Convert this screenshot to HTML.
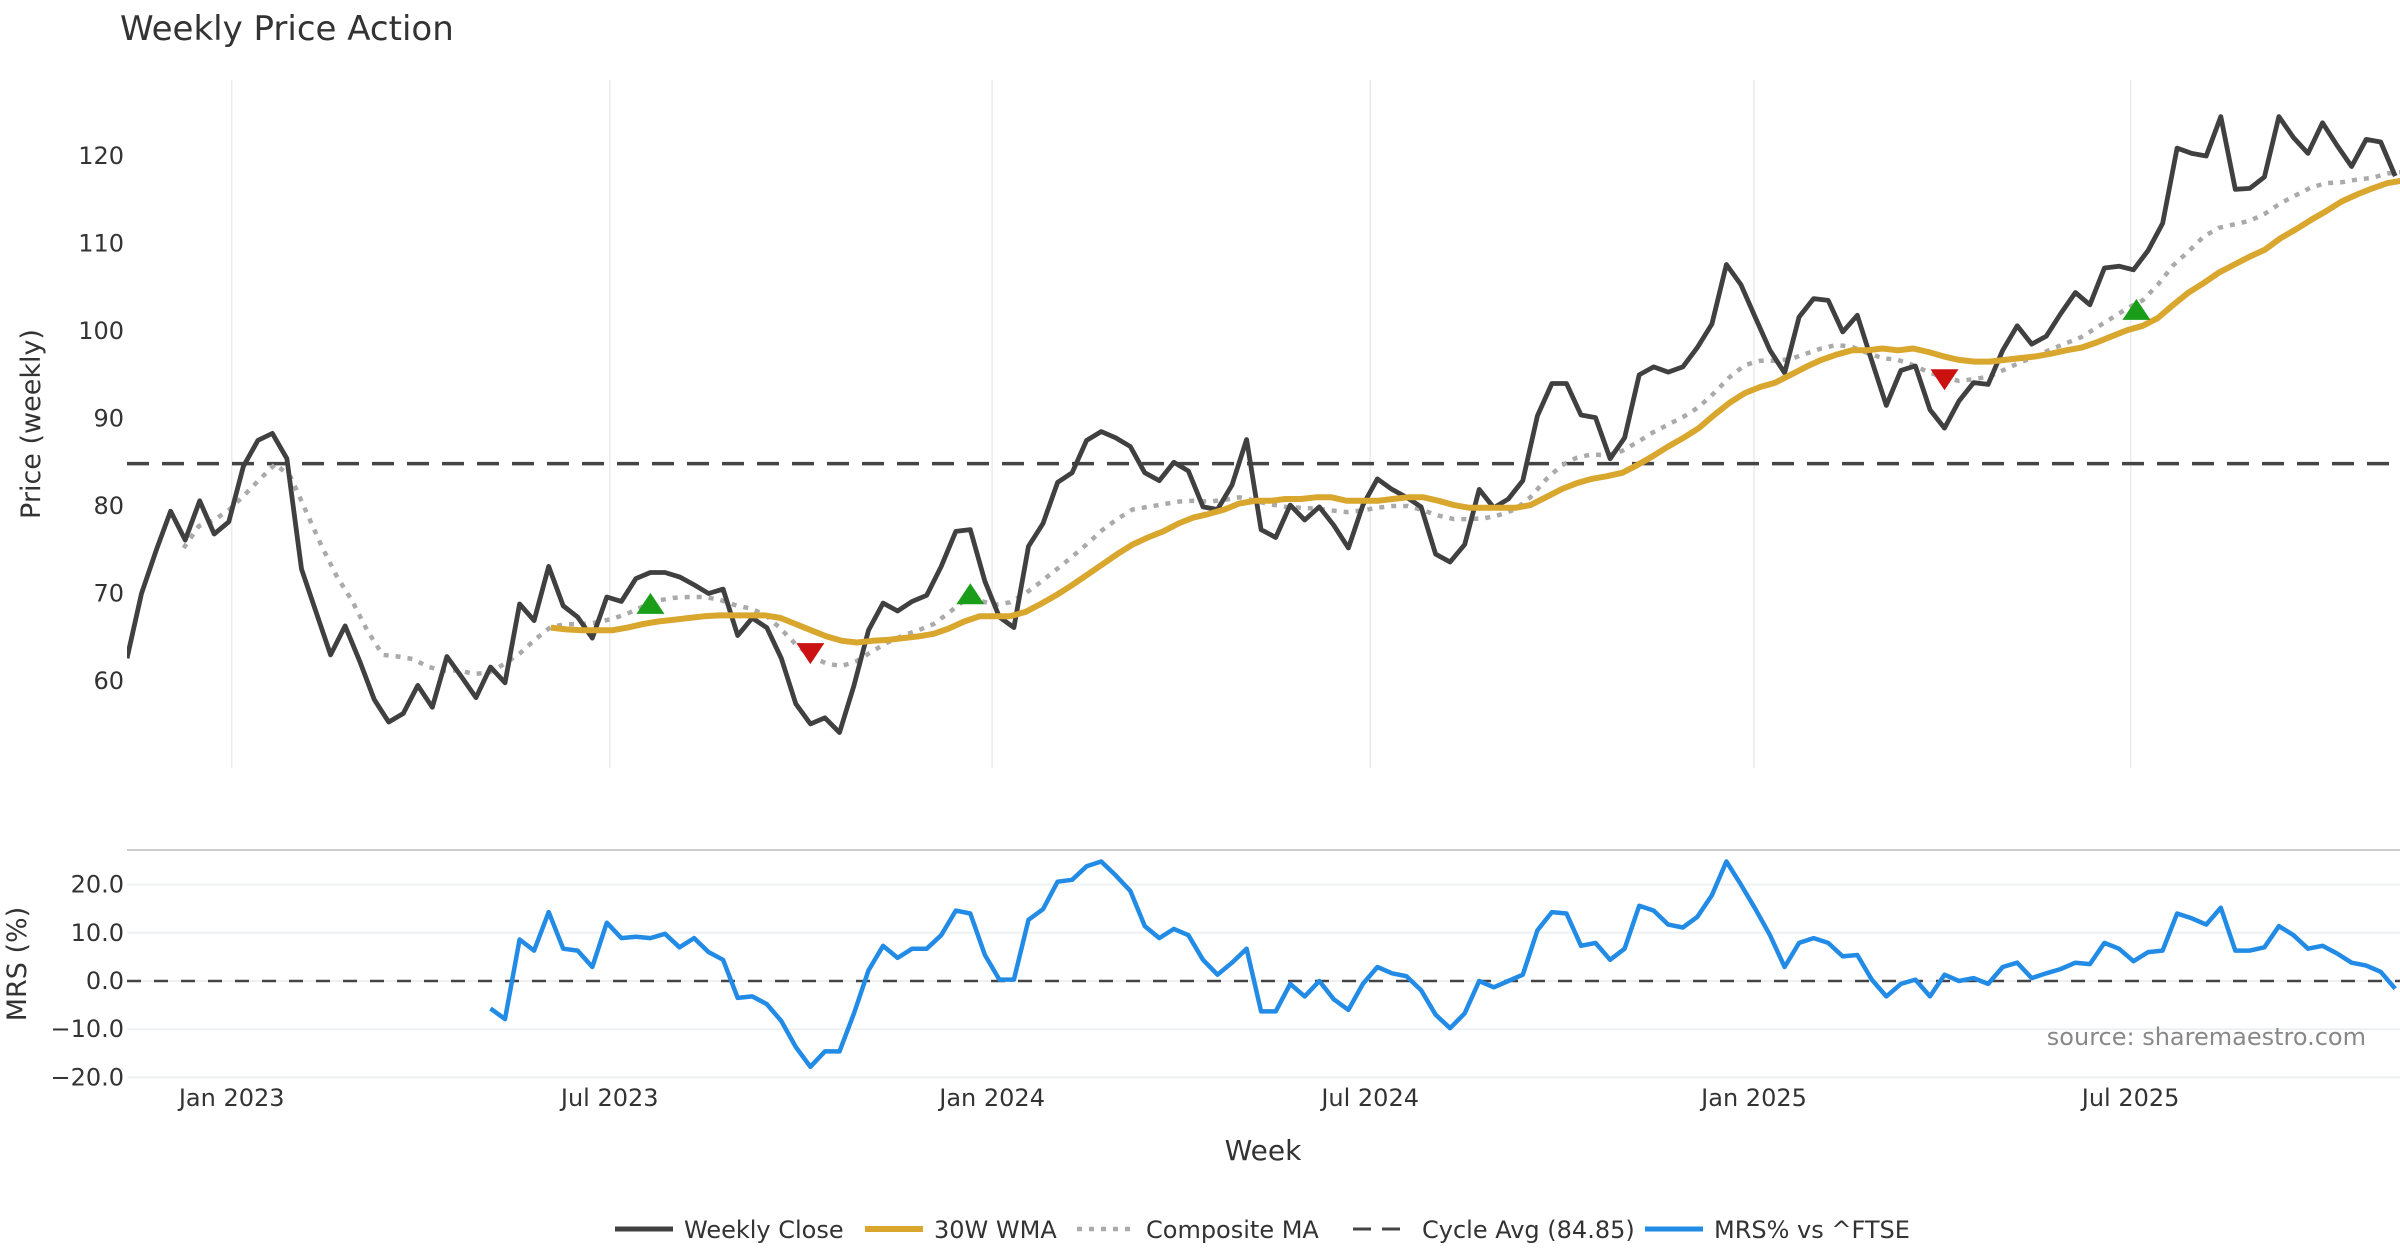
<!DOCTYPE html>
<html><head><meta charset="utf-8"><style>
html,body{margin:0;padding:0;background:#fff;}
svg{display:block;font-family:"DejaVu Sans","Liberation Sans",sans-serif;}
</style></head><body>
<svg id="chart" width="2400" height="1260" viewBox="0 0 2400 1260">
<defs><clipPath id="pc"><rect x="127" y="0" width="2273" height="1260"/></clipPath></defs>
<text x="120" y="40" font-size="34" fill="#333">Weekly Price Action</text>
<g id="main" clip-path="url(#pc)"></g>
<g id="lower"></g>
<g id="ticks"></g>
<text transform="translate(40,424) rotate(-90)" text-anchor="middle" font-size="27" fill="#333">Price (weekly)</text>
<text transform="translate(26,964) rotate(-90)" text-anchor="middle" font-size="27" fill="#333">MRS (%)</text>
<text x="1263" y="1160" text-anchor="middle" font-size="28" fill="#333">Week</text>
<text x="2366" y="1045" text-anchor="end" font-size="24" fill="#888">source: sharemaestro.com</text>
<g id="legend"></g>
</svg>
<script>
const closeVals=[62.6,70,74.9,79.4,76.1,80.6,76.8,78.2,84.5,87.5,88.3,85.4,72.8,67.9,63,66.3,62.3,57.9,55.3,56.3,59.5,57,62.8,60.5,58.1,61.6,59.8,68.8,66.9,73.1,68.6,67.3,64.9,69.6,69.1,71.7,72.4,72.4,71.9,71,70,70.5,65.2,67.2,66.1,62.6,57.4,55.1,55.8,54.1,59.5,65.8,68.9,68,69.1,69.8,73.1,77.1,77.3,71.4,67.3,66.1,75.4,78,82.7,83.8,87.5,88.5,87.8,86.8,83.8,82.9,85,84,79.9,79.6,82.4,87.6,77.3,76.4,80.1,78.4,79.9,77.8,75.2,80.1,83.1,81.9,81,79.9,74.5,73.6,75.6,81.9,79.8,80.8,82.9,90.3,94,94,90.4,90.1,85.4,87.8,95,95.9,95.3,95.9,98.1,100.8,107.6,105.3,101.5,97.8,95.2,101.6,103.7,103.5,99.9,101.8,96.6,91.5,95.5,96,91,88.9,92,94.1,93.9,97.8,100.6,98.5,99.4,102,104.4,103,107.2,107.4,107,109.2,112.3,120.9,120.3,120,124.5,116.2,116.3,117.6,124.5,122.1,120.3,123.8,121.2,118.8,121.9,121.6,117.7];
const wmaVals=[66.1,65.9,65.8,65.8,65.8,66.1,66.5,66.8,67,67.2,67.4,67.5,67.5,67.5,67.5,67.2,66.5,65.8,65.1,64.6,64.4,64.6,64.7,64.9,65.1,65.4,66,66.8,67.4,67.4,67.4,67.9,68.8,69.8,70.9,72.1,73.3,74.5,75.6,76.4,77.1,78,78.7,79.1,79.6,80.3,80.6,80.6,80.8,80.8,81,81,80.6,80.6,80.6,80.8,81,81,80.6,80.1,79.8,79.8,79.8,79.8,80.1,81,81.9,82.6,83.1,83.4,83.8,84.7,85.7,86.8,87.8,88.9,90.4,91.8,92.9,93.6,94.1,95,95.9,96.7,97.3,97.8,97.8,98,97.8,98,97.6,97.1,96.7,96.5,96.5,96.7,96.9,97.1,97.4,97.8,98.1,98.7,99.4,100.1,100.6,101.5,103,104.4,105.5,106.7,107.6,108.5,109.3,110.6,111.6,112.7,113.7,114.8,115.6,116.3,116.9,117.2];
const compVals=[75.2,77.7,78.4,79.6,81.3,83.1,84.8,83.3,79.4,75.5,72,69.2,65.8,63,62.8,62.5,61.6,61.2,61.2,60.8,61,62,63.2,64.8,66.2,66.5,66.5,66.7,67.1,67.7,68.5,69.2,69.5,69.6,69.6,69.3,68.7,68.3,67.6,66,64.2,62.8,62,61.7,62.3,63.4,64.4,65.2,65.8,66.5,67.8,69.2,69.2,68.7,69,70,71.3,72.7,74.1,75.6,77.2,78.5,79.6,79.9,80.2,80.5,80.6,80.5,80.7,81,80.6,80.2,79.9,79.8,79.7,79.5,79.3,79.5,79.8,80,80,79.5,78.9,78.5,78.5,78.6,79,79.6,81,83,84.6,85.5,85.9,85.8,86.3,87.3,88.4,89.3,90.2,91.3,92.9,94.7,96.1,96.6,96.6,96.8,97.4,98,98.4,98.2,97.5,96.9,96.7,96.1,95.3,94.7,94.3,94.5,94.8,95.6,96.4,97.1,97.9,98.6,99.3,100.4,101.5,102.6,103.5,105.3,107.5,109.1,110.8,111.8,112.2,112.6,113.4,114.6,115.5,116.4,116.9,117,117.3,117.5,118,118.2];
const mrsVals=[-5.7,-7.9,8.6,6.3,14.3,6.7,6.3,2.9,12.1,8.9,9.2,8.9,9.8,7,8.9,6,4.4,-3.5,-3.2,-4.8,-8.3,-13.7,-17.8,-14.6,-14.6,-6.7,2.2,7.3,4.8,6.7,6.7,9.5,14.6,14,5.4,0.3,0.3,12.7,14.9,20.6,21,23.8,24.8,21.9,18.7,11.4,8.9,10.8,9.5,4.4,1.3,3.8,6.7,-6.3,-6.3,-0.6,-3.2,0,-3.8,-6,-0.6,2.9,1.6,1,-1.9,-7,-9.8,-6.7,0,-1.3,0,1.3,10.5,14.3,14,7.3,7.9,4.4,6.7,15.6,14.6,11.7,11.1,13.3,17.8,24.8,20,14.9,9.5,2.9,7.9,8.9,7.9,5.1,5.4,0.3,-3.2,-0.6,0.3,-3.2,1.3,0,0.6,-0.6,2.9,3.8,0.6,1.6,2.5,3.8,3.5,7.9,6.7,4.1,6,6.3,14,13,11.7,15.2,6.3,6.3,7,11.4,9.5,6.7,7.3,5.7,3.8,3.2,1.9,-1.6];
const buyWeeks=[36,58,138.2];
const buyVals=[68.7,69.8,102.3];
const sellWeeks=[47,125];
const sellVals=[63.3,94.6];
const cycleAvg=84.85;
const priceTicks=[60,70,80,90,100,110,120];
const mrsTicks=[20,10,0,-10,-20];
const mrsTickLabels=["20.0","10.0","0.0","\u221210.0","\u221220.0"];
const dateTickWeeks=[7.2,33.2,59.5,85.5,111.9,137.8];
const dateTickLabels=["Jan 2023","Jul 2023","Jan 2024","Jul 2024","Jan 2025","Jul 2025"];
const mrsStartWeek=25, wmaStartWeek=29.16, compStartWeek=3.89, maStepWeeks=1.0526;

const NS="http://www.w3.org/2000/svg";
function mk(tag,attrs,parent){const e=document.createElementNS(NS,tag);for(const k in attrs)e.setAttribute(k,attrs[k]);parent.appendChild(e);return e;}
const X=w=>127+w*14.54;
const Y=v=>681-(v-60)*8.75;
const YM=v=>981-v*4.82;
const main=document.getElementById('main'),lower=document.getElementById('lower'),legend=document.getElementById('legend'),ticks=document.getElementById('ticks');

dateTickWeeks.forEach((w,i)=>{
  const g=mk('line',{x1:X(w),x2:X(w),y1:80,y2:768,stroke:'#ebebeb','stroke-width':1.5},main);
  
  
  const t=mk('text',{x:X(w),y:1106,'text-anchor':'middle','font-size':24,fill:'#333'},ticks);
  t.textContent=dateTickLabels[i];
  
  
});
priceTicks.forEach(v=>{
  const t=mk('text',{x:124,y:Y(v)+8,'text-anchor':'end','font-size':24,fill:'#333'},ticks);
  t.textContent=v;
  
  
});
const cl=mk('line',{x1:127,x2:2400,y1:Y(cycleAvg),y2:Y(cycleAvg),stroke:'#444','stroke-width':3.5,'stroke-dasharray':'22 13'},main);


function pts(vals,start,step,yf){return vals.map((v,i)=>X(start+i*step).toFixed(1)+','+yf(v).toFixed(1)).join(' ');}
const cp=mk('polyline',{points:pts(compVals,compStartWeek,maStepWeeks,Y),fill:'none',stroke:'#aaa','stroke-width':4.5,'stroke-dasharray':'5 7'},main);


const cc=mk('polyline',{points:pts(closeVals,0,1,Y),fill:'none',stroke:'#404040','stroke-width':4.8,'stroke-linejoin':'round'},main);


const wm=mk('polyline',{points:pts(wmaVals,wmaStartWeek,maStepWeeks,Y),fill:'none',stroke:'#d9a62e','stroke-width':6,'stroke-linejoin':'round'},main);


buyWeeks.forEach((w,i)=>{
  const x=X(w),y=Y(buyVals[i]);
  const p=mk('polygon',{points:`${x-14},${y+9} ${x+14},${y+9} ${x},${y-12}`,fill:'#1a9e1a'},main);
  
  
});
sellWeeks.forEach((w,i)=>{
  const x=X(w),y=Y(sellVals[i]);
  const p=mk('polygon',{points:`${x-14},${y-9} ${x+14},${y-9} ${x},${y+12}`,fill:'#cc1111'},main);
  
  
});
const bl=mk('line',{x1:127,x2:2400,y1:850,y2:850,stroke:'#ccc','stroke-width':2},lower);


mrsTicks.forEach((v,i)=>{
  const g=mk('line',{x1:127,x2:2400,y1:YM(v),y2:YM(v),stroke:'#eef0f2','stroke-width':2},lower);
  
  
  const t=mk('text',{x:124,y:YM(v)+8,'text-anchor':'end','font-size':24,fill:'#333'},ticks);
  t.textContent=mrsTickLabels[i];
  
  
});
const zl=mk('line',{x1:127,x2:2400,y1:YM(0),y2:YM(0),stroke:'#444','stroke-width':2.5,'stroke-dasharray':'14 13'},lower);


const ml=mk('polyline',{points:pts(mrsVals,mrsStartWeek,1,YM),fill:'none',stroke:'#228be6','stroke-width':4.5,'stroke-linejoin':'round'},lower);


const items=[["Weekly Close",615,'#404040',5,''],["30W WMA",865,'#d9a62e',6,''],["Composite MA",1077,'#aaa',4.5,'5 7'],["Cycle Avg (84.85)",1353,'#444',3,'18 11'],["MRS% vs ^FTSE",1645,'#228be6',5,'']];
items.forEach(it=>{
  const g=mk('g',{},legend);
  
  
  const attrs={x1:it[1],x2:it[1]+58,y1:1229,y2:1229,stroke:it[2],'stroke-width':it[3]};
  if(it[4])attrs['stroke-dasharray']=it[4];
  mk('line',attrs,g);
  const t=mk('text',{x:it[1]+69,y:1238,'font-size':24,fill:'#333'},g);
  t.textContent=it[0];
});
</script>
</body></html>
